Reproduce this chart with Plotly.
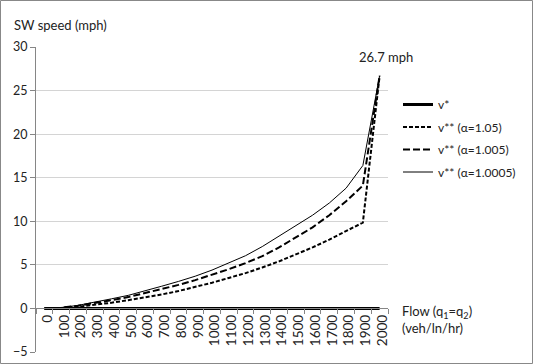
import plotly.graph_objects as go

flows = [str(v) for v in range(0, 2001, 100)]
v_star = [0] * 21
v_a105 = [0, 0.05, 0.2, 0.4, 0.65, 0.95, 1.25, 1.6, 2.0, 2.45, 2.95, 3.5, 4.05, 4.7, 5.4, 6.2, 7.0, 7.9, 8.85, 9.85, 26.7]
v_a1005 = [0, 0.08, 0.3, 0.6, 0.95, 1.3, 1.75, 2.2, 2.7, 3.25, 3.85, 4.5, 5.2, 6.0, 7.0, 8.1, 9.3, 10.7, 12.3, 14.1, 26.7]
v_a10005 = [0, 0.1, 0.35, 0.7, 1.1, 1.5, 2.0, 2.55, 3.1, 3.7, 4.4, 5.2, 6.05, 7.1, 8.3, 9.4, 10.7, 12.1, 13.8, 16.4, 26.7]
y_ticks = [-5, 0, 5, 10, 15, 20, 25, 30]

FONT = "Lato"
W, H = 533, 364
L, R, T, B = 36, 145, 47, 12
pw, ph = W - L - R, H - T - B

def px_x(p):
    return (p - L) / pw

def px_y(p):
    return (H - B - p) / ph

fig = go.Figure()
fig.add_trace(go.Scatter(x=flows, y=v_star, mode="lines", name="v*",
                         line=dict(color="black", width=3), legendgroup="a"))
fig.add_trace(go.Scatter(x=flows, y=v_a105, mode="lines", name="v** (α=1.05)",
                         line=dict(color="black", width=2, dash="4px,2px"), legendgroup="b"))
fig.add_trace(go.Scatter(x=flows, y=v_a1005, mode="lines", name="v** (α=1.005)",
                         line=dict(color="black", width=2, dash="7px,3px"), legendgroup="c"))
fig.add_trace(go.Scatter(x=flows, y=v_a10005, mode="lines", name="v** (α=1.0005)",
                         line=dict(color="black", width=1), legendgroup="d"))

ymin, ymax = -5, 30
fig.update_layout(
    width=W, height=H,
    margin=dict(l=L, r=R, t=T, b=B),
    paper_bgcolor="white", plot_bgcolor="white",
    font=dict(family=FONT, size=12, color="#222"),
    showlegend=True,
    legend=dict(x=px_x(398), y=px_y(90), xanchor="left", yanchor="top",
                font=dict(size=12, family=FONT), tracegroupgap=3.5,
                traceorder="grouped", bgcolor="rgba(0,0,0,0)", itemwidth=30),
    xaxis=dict(type="category", range=[-0.5, 20.5], anchor="free",
               position=(0 - ymin) / (ymax - ymin),
               showline=True, linecolor="#868686", linewidth=1,
               ticks="outside", ticklen=5, tickcolor="#868686", tickson="boundaries",
               tickangle=-90, tickfont=dict(size=13.5), showgrid=False,
               ticklabelshift=3, automargin=False),
    yaxis=dict(range=[ymin, ymax], tickvals=y_ticks, showline=True,
               linecolor="#868686", linewidth=1, ticks="outside", ticklen=5,
               tickcolor="#868686", gridcolor="#d4d4d4", gridwidth=1,
               zeroline=False, tickfont=dict(size=12.5), automargin=False),
)

last = len(flows) - 1
fig.add_annotation(x=last, y=v_a10005[last], text="26.7 mph", showarrow=False,
                   xanchor="center", yanchor="bottom", yshift=9, xshift=6,
                   font=dict(size=13, family=FONT))
fig.add_annotation(xref="paper", yref="paper", x=px_x(12), y=px_y(25), text="SW speed (mph)",
                   showarrow=False, xanchor="left", yanchor="middle",
                   font=dict(size=13, family=FONT))
fig.add_annotation(xref="paper", yref="paper", x=px_x(400), y=px_y(301),
                   text="Flow (q<sub>1</sub>=q<sub>2</sub>)<br>(veh/ln/hr)",
                   showarrow=False, xanchor="left", yanchor="top", align="left",
                   font=dict(size=13, family=FONT))
fig.add_shape(type="rect", xref="paper", yref="paper",
              x0=px_x(0.5), x1=px_x(W - 0.5), y0=px_y(H - 0.5), y1=px_y(0.5),
              line=dict(color="#888", width=1))

fig.write_html("out.html")
